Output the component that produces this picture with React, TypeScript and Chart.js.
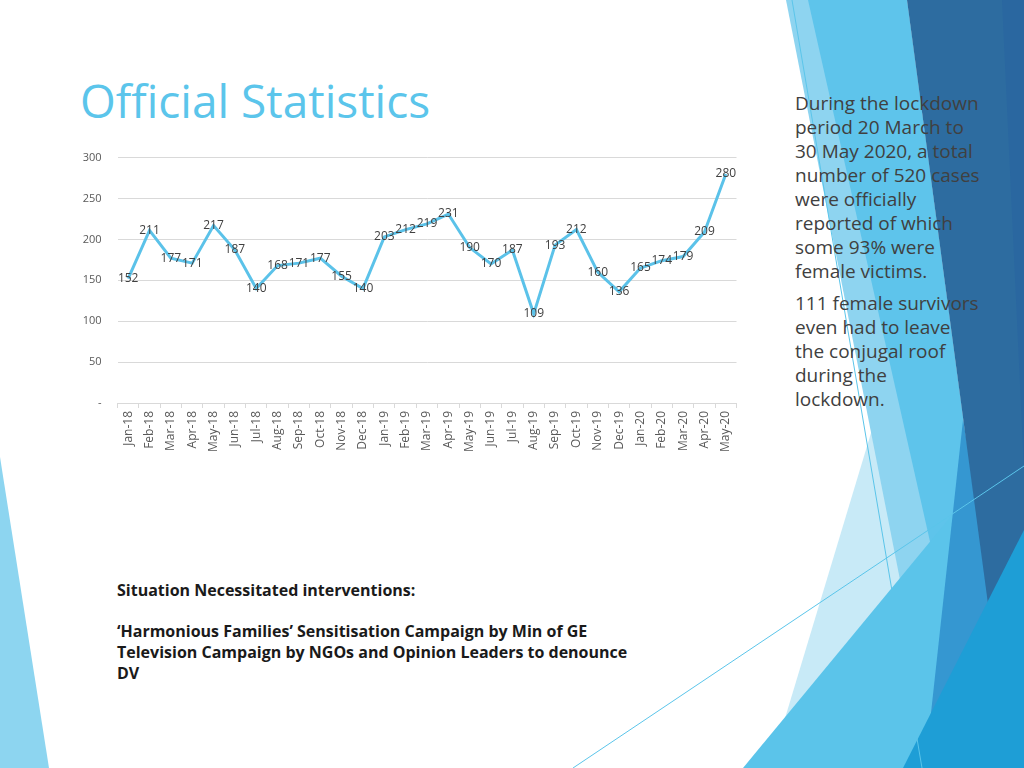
import React, { useEffect, useRef } from "react";
import { Chart, registerables } from "chart.js";

Chart.register(...registerables);

const categories = [
  "Jan-18", "Feb-18", "Mar-18", "Apr-18", "May-18", "Jun-18", "Jul-18", "Aug-18", "Sep-18", "Oct-18", "Nov-18", "Dec-18",
  "Jan-19", "Feb-19", "Mar-19", "Apr-19", "May-19", "Jun-19", "Jul-19", "Aug-19", "Sep-19", "Oct-19", "Nov-19", "Dec-19",
  "Jan-20", "Feb-20", "Mar-20", "Apr-20", "May-20",
];
const cases = [
  152, 211, 177, 171, 217, 187, 140, 168, 171, 177, 155, 140,
  203, 212, 219, 231, 190, 170, 187, 109, 193, 212, 160, 136,
  165, 174, 179, 209, 280,
];
const yMin = 0;
const yMax = 300;
const yStep = 50;

const FONT = "'Open Sans', 'DejaVu Sans', sans-serif";

const dataLabelPlugin = {
  id: "dataLabels",
  afterDatasetsDraw(chart: any) {
    const ctx = chart.ctx;
    const meta = chart.getDatasetMeta(0);
    const values = chart.data.datasets[0].data;
    ctx.save();
    ctx.font = `12px ${FONT}`;
    ctx.fillStyle = "#404040";
    ctx.textAlign = "center";
    ctx.textBaseline = "middle";
    meta.data.forEach((pt: any, i: number) => {
      ctx.fillText(String(values[i]), pt.x, pt.y);
    });
    ctx.restore();
  },
};

function LineChart() {
  const ref = useRef<HTMLCanvasElement>(null);
  useEffect(() => {
    if (!ref.current) return;
    const chart = new Chart(ref.current, {
      type: "line",
      data: {
        labels: categories,
        datasets: [
          {
            data: cases,
            borderColor: "#5BC2E9",
            borderWidth: 3,
            pointRadius: 0,
            tension: 0,
            fill: false,
          },
        ],
      },
      options: {
        responsive: false,
        animation: false,
        devicePixelRatio: 1,
        layout: { padding: { top: 12, right: 13.5, bottom: 0, left: 0 } },
        plugins: { legend: { display: false }, tooltip: { enabled: false } },
        scales: {
          x: {
            offset: true,
            grid: {
              offset: true,
              drawOnChartArea: false,
              drawTicks: true,
              tickLength: 5,
              color: "#d9d9d9",
            },
            border: { color: "#d9d9d9" },
            ticks: {
              autoSkip: false,
              minRotation: 90,
              maxRotation: 90,
              padding: 3,
              color: "#595959",
              font: { family: FONT, size: 12 },
            },
            afterFit: (s: any) => {
              s.height = 57;
            },
          },
          y: {
            min: yMin,
            max: yMax,
            ticks: {
              stepSize: yStep,
              padding: 16,
              color: "#595959",
              font: { family: FONT, size: 11 },
              callback: (v: any) => (v === 0 ? "-" : String(v)),
            },
            grid: { color: "#d9d9d9", drawTicks: false },
            border: { display: false },
            afterFit: (s: any) => {
              s.width = 57.5;
            },
          },
        },
      },
      plugins: [dataLabelPlugin],
    });
    return () => chart.destroy();
  }, []);
  return (
    <canvas
      ref={ref}
      width={690}
      height={325}
      style={{ position: "absolute", left: 60, top: 135, width: 690, height: 325 }}
    />
  );
}

function Background() {
  return (
    <svg
      width={1024}
      height={768}
      style={{ position: "absolute", left: 0, top: 0 }}
      viewBox="0 0 1024 768"
    >
      <polygon points="0,457 49,768 0,768" fill="#8DD5F0" />
      <polygon points="893,360 770,768 980,768" fill="#C8EAF7" />
      <polygon points="786,0 907,0 1010,768 937,768" fill="#8ED4F0" />
      <polygon points="808,0 907,0 1010,768 981,768" fill="#5EC4EB" />
      <polygon points="743,768 1024,428 1024,768" fill="#5BC4EA" />
      <polygon points="963,420 925,768 1024,768" fill="#3597D1" />
      <polygon points="907,0 1024,0 1024,768 1010,768" fill="#2D6CA0" />
      <polygon points="1002,0 1024,0 1024,470" fill="#2A67A0" />
      <polygon points="1024,530 903,768 1024,768" fill="#1E9ED6" />
      <line x1="792" y1="0" x2="922" y2="768" stroke="#5BC5EA" strokeWidth={1} />
      <line x1="573" y1="768" x2="1024" y2="466" stroke="#5BC5EA" strokeWidth={1} />
    </svg>
  );
}

export default function App() {
  return (
    <div
      style={{
        position: "absolute",
        left: 0,
        top: 0,
        width: 1024,
        height: 768,
        overflow: "hidden",
        background: "#ffffff",
        fontFamily: FONT,
      }}
    >
      <Background />
      <div
        style={{
          position: "absolute",
          left: 80,
          top: 77,
          fontSize: 46,
          lineHeight: 1,
          color: "#5BC5EB",
          whiteSpace: "nowrap",
        }}
      >
        Official Statistics
      </div>
      <LineChart />
      <div
        style={{
          position: "absolute",
          left: 795,
          top: 91,
          width: 225,
          fontSize: 19,
          lineHeight: "24px",
          color: "#404040",
          whiteSpace: "nowrap",
        }}
      >
        <div>
          During the lockdown
          <br />
          period 20 March to
          <br />
          30 May 2020, a total
          <br />
          number of 520 cases
          <br />
          were officially
          <br />
          reported of which
          <br />
          some 93% were
          <br />
          female victims.
        </div>
        <div style={{ marginTop: 8 }}>
          111 female survivors
          <br />
          even had to leave
          <br />
          the conjugal roof
          <br />
          during the
          <br />
          lockdown.
        </div>
      </div>
      <div
        style={{
          position: "absolute",
          left: 117,
          top: 579.5,
          fontSize: 16,
          fontWeight: 700,
          lineHeight: "20.8px",
          color: "#1a1a1a",
          whiteSpace: "nowrap",
        }}
      >
        Situation Necessitated interventions:
        <br />
        <br />
        ‘Harmonious Families’ Sensitisation Campaign by Min of GE
        <br />
        Television Campaign by NGOs and Opinion Leaders to denounce
        <br />
        DV
      </div>
    </div>
  );
}
